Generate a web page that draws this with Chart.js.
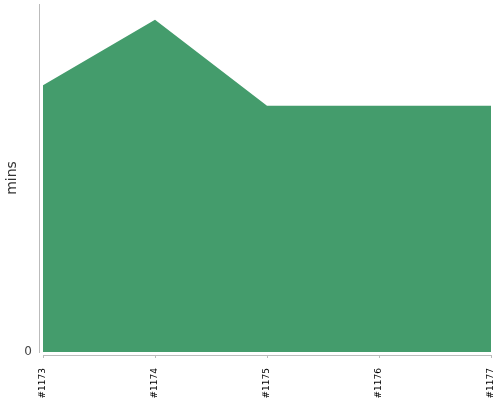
<!DOCTYPE html>
<html>
<head>
<meta charset="utf-8">
<script src="https://cdn.jsdelivr.net/npm/chart.js@4/dist/chart.umd.min.js"></script>
<style>
  html, body { margin: 0; padding: 0; background: #fff; }
  #wrap { width: 500px; height: 400px; }
</style>
</head>
<body>
<div id="wrap"><canvas id="minsChart"></canvas></div>
<script>
var builds = ['#1173', '#1174', '#1175', '#1176', '#1177'];
var minutes = [27.3, 34, 25.2, 25.2, 25.2];
var yTicks = [0];
var yMax = 35.6;

// axis lines sit a few px away from the plot area, like the original
var axisLines = {
  id: 'axisLines',
  afterDraw: function(chart) {
    var ctx = chart.ctx, a = chart.chartArea, x = chart.scales.x;
    ctx.save();
    ctx.strokeStyle = '#bbbbbb';
    ctx.lineWidth = 1;
    ctx.beginPath();
    ctx.moveTo(a.left - 3.5, a.top);
    ctx.lineTo(a.left - 3.5, a.bottom + 1);
    ctx.moveTo(a.left, a.bottom + 3.5);
    ctx.lineTo(a.right, a.bottom + 3.5);
    builds.forEach(function(b, i) {
      var px = Math.round(x.getPixelForValue(i)) + 0.5;
      ctx.moveTo(px, a.bottom + 3);
      ctx.lineTo(px, a.bottom + 6);
    });
    ctx.stroke();
    ctx.restore();
  }
};

var ctx = document.getElementById('minsChart').getContext('2d');
var chart = new Chart(ctx, {
  type: 'line',
  data: {
    labels: builds,
    datasets: [{
      data: minutes,
      fill: 'origin',
      backgroundColor: 'rgb(68, 156, 108)',
      borderWidth: 0,
      pointRadius: 0,
      tension: 0
    }]
  },
  options: {
    responsive: true,
    maintainAspectRatio: false,
    animation: false,
    layout: { padding: { top: 4, right: 9, left: 0, bottom: 0 } },
    plugins: { legend: { display: false }, tooltip: { enabled: false } },
    scales: {
      x: {
        grid: { display: false },
        border: { display: false },
        ticks: {
          minRotation: 90, maxRotation: 90, padding: 8,
          color: '#000', font: { family: 'DejaVu Sans', size: 9 }
        },
        afterFit: function(s) { s.height = 48; s.paddingLeft = 0; s.paddingRight = 0; }
      },
      y: {
        min: 0, max: yMax,
        grid: { display: false },
        border: { display: false },
        afterBuildTicks: function(s) { s.ticks = yTicks.map(function(v) { return { value: v }; }); },
        ticks: { color: '#444', padding: 3, font: { family: 'DejaVu Sans', size: 12 } },
        title: { display: true, text: 'mins', color: '#333', padding: 4, font: { family: 'DejaVu Sans', size: 14 } },
        afterFit: function(s) { s.width = 43; s.paddingTop = 0; s.paddingBottom = 0; }
      }
    }
  },
  plugins: [axisLines]
});
</script>
</body>
</html>
